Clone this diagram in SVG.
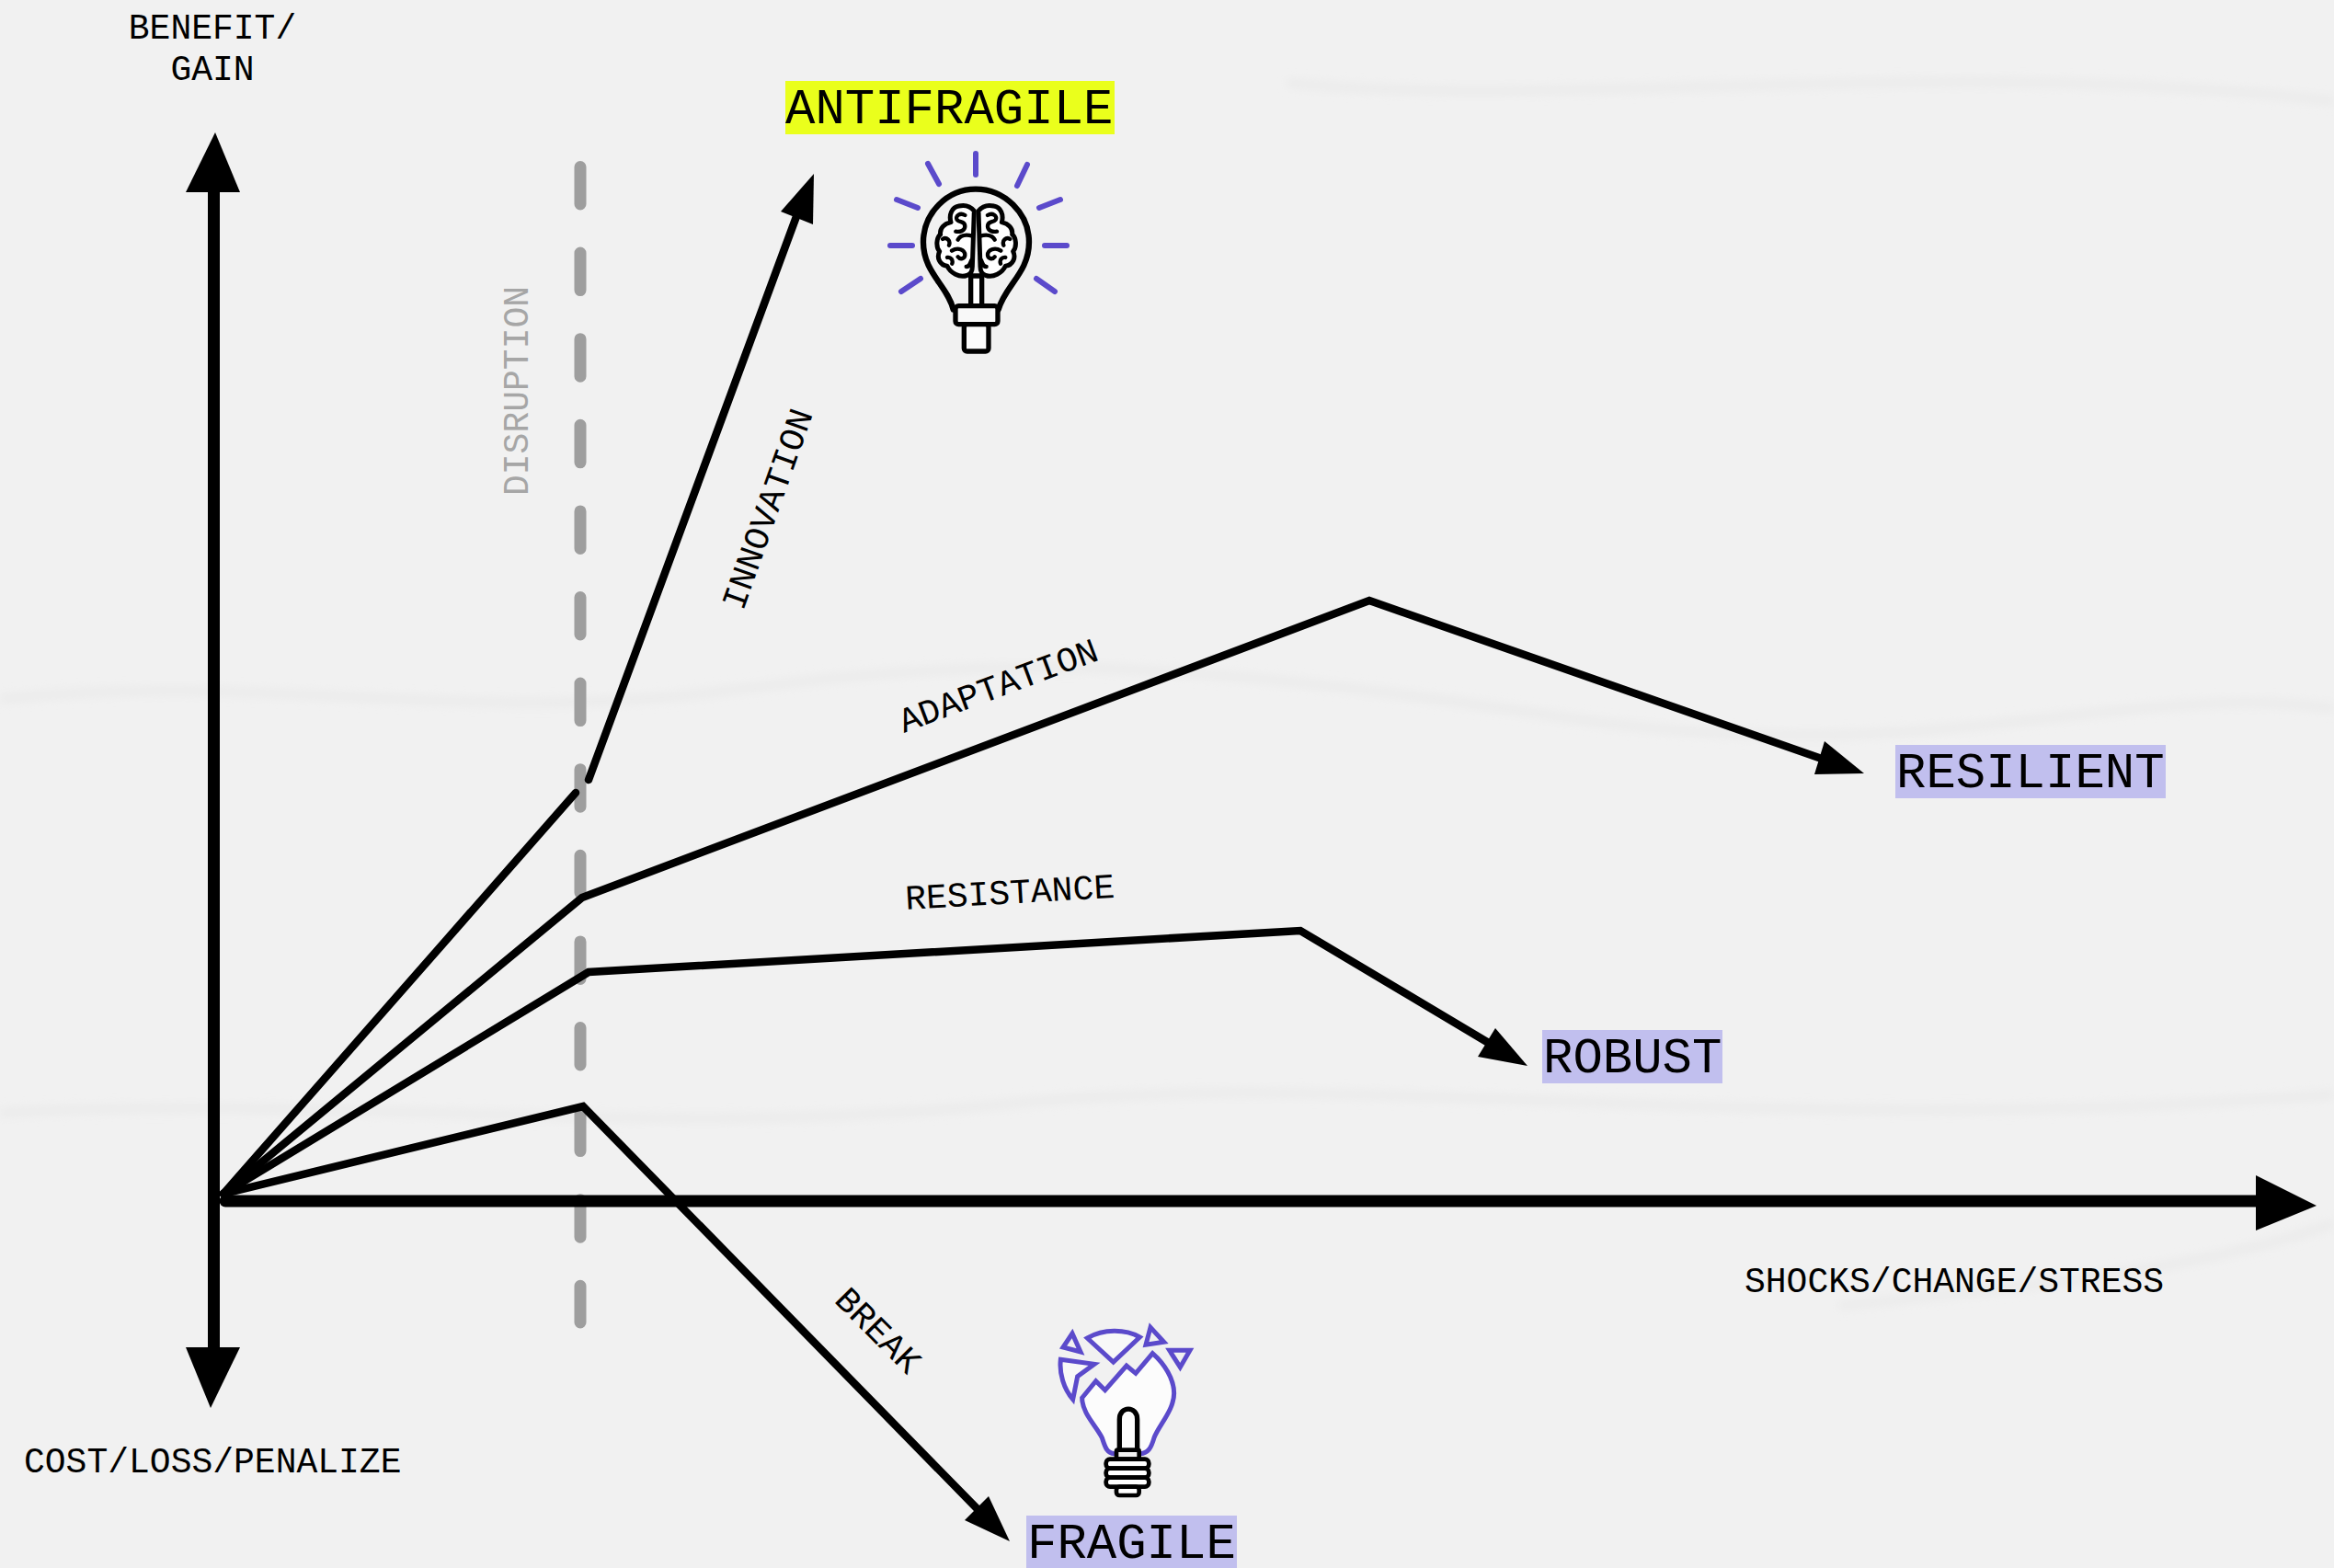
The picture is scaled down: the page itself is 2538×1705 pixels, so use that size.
<svg xmlns="http://www.w3.org/2000/svg" width="2538" height="1705" viewBox="0 0 2538 1705">
<style>
text{font-family:"Liberation Mono",monospace;fill:#000}
.s{font-size:38px}
.b{font-size:54px}
.l{fill:none;stroke:#000;stroke-width:8.500;stroke-linecap:round;stroke-linejoin:miter}
.ax{fill:none;stroke:#000;stroke-width:13}
.h{fill:#000}
.r{fill:none;stroke:#5b4acb;stroke-width:6;stroke-linecap:round}
.p{fill:none;stroke:#5b4acb;stroke-width:15;stroke-linejoin:miter}
.k{stroke:#000;stroke-linejoin:round;stroke-linecap:round}
.c{fill:none;stroke:#ebebeb;stroke-width:10}
</style>
<defs>
<filter id="soft" x="-5%" y="-50%" width="110%" height="200%"><feGaussianBlur stdDeviation="5"/></filter>
<g id="lobe-shape">
<path class="k" fill="#fff" stroke-width="15" d="M418 268C405 252 385 248 368 252C345 256 335 280 342 305C320 310 305 325 308 345C295 355 292 385 305 400C295 420 305 445 330 448C340 470 370 488 395 478C405 475 412 465 412 450Z"/>
<path class="k" fill="none" stroke-width="13" d="M388 282C372 272 355 285 362 297C370 307 388 300 388 318C388 332 372 338 358 335M412 350C395 345 375 345 365 362M315 360C328 352 342 365 336 380M345 398C365 385 388 395 388 412C388 424 372 428 365 418M412 425C402 435 408 450 392 450M330 420C342 418 350 428 346 440"/>
</g>
</defs>
<rect id="background" width="2538" height="1705" fill="#f1f1f1"/>
<g id="creases" filter="url(#soft)">
<path class="c" d="M0 760C300 730 500 790 800 750S1300 720 1700 780 2300 740 2538 770"/>
<path class="c" d="M0 1210C400 1190 700 1240 1100 1200S1900 1240 2538 1190"/>
<path class="c" d="M1400 90C1700 120 2100 60 2538 110"/>
<path class="c" d="M2000 1420C2200 1400 2400 1380 2538 1330"/>
</g>
<g id="connectors">
<line id="disruption-line" x1="631" y1="181.500" x2="631" y2="1438" fill="none" stroke="#9e9e9e" stroke-width="13" stroke-linecap="round" stroke-dasharray="40.500 53.100"/>
<path class="ax" d="M232.500 205V1470" stroke-linecap="butt"/>
<path class="ax" d="M245 1306H2456" stroke-linecap="round"/>
<polygon class="h" points="234,144 202,209 261,209"/>
<polygon class="h" points="229,1531 202,1465 261,1465"/>
<polygon class="h" points="2519,1311 2453,1278 2453,1338"/>
<path class="l" d="M243 1298L626 862"/>
<path class="l" d="M640 848L868 230"/>
<polygon class="h" points="885,189 849,230 884,244"/>
<path class="l" d="M243 1298L633 976L1489 653L1978 824"/>
<polygon class="h" points="2027,841 1973,842 1984,806"/>
<path class="l" d="M243 1298L640 1057L1414 1012L1617 1133"/>
<polygon class="h" points="1661,1159 1607,1149 1626,1118"/>
<path class="l" d="M243 1298L634 1203L1062 1640"/>
<polygon class="h" points="1098,1676 1049,1653 1075,1627"/>
</g>
<g id="axis-labels">
<text class="s" x="231" y="42" text-anchor="middle">BENEFIT/</text>
<text class="s" x="231" y="87" text-anchor="middle">GAIN</text>
<text class="s" x="26" y="1601">COST/LOSS/PENALIZE</text>
<text class="s" x="1897" y="1405">SHOCKS/CHANGE/STRESS</text>
</g>
<g id="connector-labels">
<text class="s" transform="translate(574,539) rotate(-90)" style="fill:#a6a6a6">DISRUPTION</text>
<text class="s" transform="translate(808,665) rotate(-70.500)">INNOVATION</text>
<text class="s" transform="translate(983,797) rotate(-20.500)">ADAPTATION</text>
<text class="s" transform="translate(985,989) rotate(-3.300)">RESISTANCE</text>
<text class="s" transform="translate(906,1415) rotate(45)">BREAK</text>
</g>
<g id="antifragile">
<rect x="854" y="88" width="358" height="58" fill="#eaff1c"/>
<text class="b" x="854" y="134">ANTIFRAGILE</text>
</g>
<g id="resilient">
<rect x="2061" y="810" width="294" height="58" fill="#c1bfee"/>
<text class="b" x="2062" y="856">RESILIENT</text>
</g>
<g id="robust">
<rect x="1677" y="1120" width="196" height="58" fill="#c1bfee"/>
<text class="b" x="1678" y="1166">ROBUST</text>
</g>
<g id="fragile">
<rect x="1116" y="1648" width="229" height="57" fill="#c1bfee"/>
<text class="b" x="1117" y="1694">FRAGILE</text>
</g>
<g id="brain-bulb">
<g>
<line class="r" x1="1061" y1="167" x2="1061" y2="190"/>
<line class="r" x1="1009" y1="178" x2="1021" y2="200"/>
<line class="r" x1="1117" y1="179" x2="1106" y2="202"/>
<line class="r" x1="975" y1="217" x2="998" y2="226"/>
<line class="r" x1="1153" y1="217" x2="1130" y2="226"/>
<line class="r" x1="968" y1="267" x2="992" y2="267"/>
<line class="r" x1="1136" y1="267" x2="1160" y2="267"/>
<line class="r" x1="980" y1="317" x2="1001" y2="303"/>
<line class="r" x1="1127" y1="303" x2="1147" y2="317"/>
</g>
<g transform="translate(920,140) scale(0.3333)">
<path class="k" fill="none" stroke-width="19" d="M350 590C330 510 252 470 252 370C252 275 330 197 423 197C516 197 597 275 597 370C597 470 520 510 497 590"/>
<path class="k" fill="#fff" stroke-width="16" d="M407 480V578H443V480Z"/>
<use href="#lobe-shape"/>
<use href="#lobe-shape" transform="translate(850,0) scale(-1,1)"/>
<rect class="k" fill="#f8f8f8" stroke-width="16" x="357" y="578" width="138" height="60" rx="10"/>
<rect class="k" fill="#fbfbfb" stroke-width="16" x="385" y="638" width="80" height="88" rx="10"/>
</g>
</g>
<g id="broken-bulb" transform="translate(1120,1420) scale(0.3333)">
<polygon class="p" points="138,90 108,135 165,150"/>
<path class="p" d="M187 105C240 75 310 75 358 102L272 183Z" style="fill:#f8f8f8"/>
<polygon class="p" points="393,70 378,127 437,118"/>
<polygon class="p" points="455,145 522,145 490,200"/>
<path class="p" d="M100 175L210 190L155 230L140 305C110 270 95 220 100 175Z" style="fill:#f8f8f8"/>
<path class="p" style="fill:#fcfcfc" d="M170 300L215 245L245 275L315 195L345 220L400 155C440 190 470 240 470 285C470 340 420 390 405 430C395 465 385 480 360 482H275C250 480 245 460 235 430C215 390 170 350 170 300Z"/>
<path class="k" fill="#fcfcfc" stroke-width="16" d="M292 470V370C292 325 350 325 350 370V470"/>
<rect class="k" fill="#f2f2f2" stroke-width="14" x="282" y="470" width="74" height="30" rx="4"/>
<rect class="k" fill="#fff" stroke-width="14" x="248" y="500" width="140" height="30" rx="13"/>
<rect class="k" fill="#fff" stroke-width="14" x="248" y="530" width="140" height="30" rx="13"/>
<rect class="k" fill="#fff" stroke-width="14" x="248" y="560" width="140" height="30" rx="13"/>
<rect class="k" fill="#fff" stroke-width="14" x="282" y="590" width="74" height="28" rx="10"/>
</g>
</svg>
